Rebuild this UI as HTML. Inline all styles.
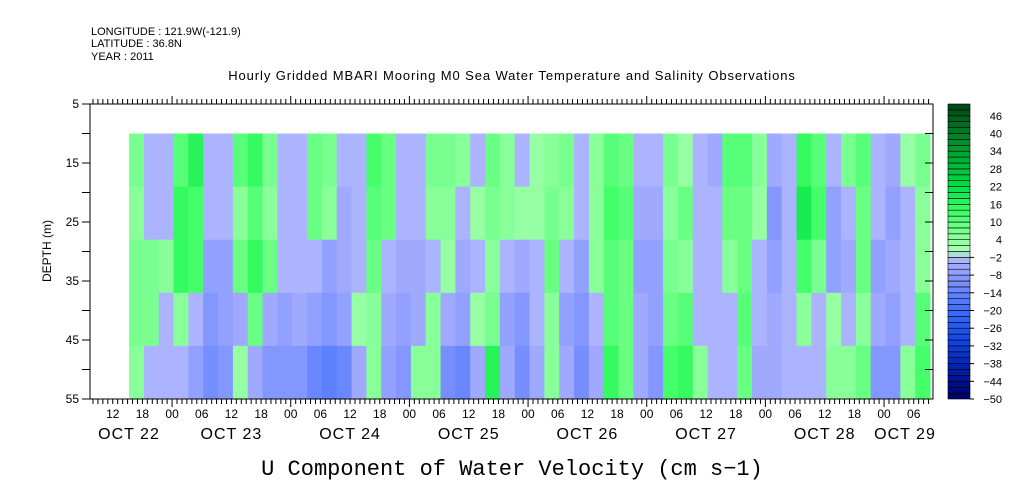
<!DOCTYPE html>
<html><head><meta charset="utf-8"><style>
html,body{margin:0;padding:0;background:#fff;}
svg{display:block;font-family:"Liberation Sans",sans-serif;}
</style></head><body>
<svg id="chart" width="1009" height="504" viewBox="0 0 1009 504" xmlns="http://www.w3.org/2000/svg">
<g font-size="11" fill="#000">
<text x="91" y="35">LONGITUDE : 121.9W(-121.9)</text>
<text x="91" y="47">LATITUDE : 36.8N</text>
<text x="91" y="60">YEAR : 2011</text>
</g>
<text x="512" y="80" font-size="13" letter-spacing="0.9" text-anchor="middle">Hourly Gridded MBARI Mooring M0 Sea Water Temperature and Salinity Observations</text>
<text x="0" y="0" font-size="12" text-anchor="middle" transform="translate(51,251) rotate(-90)">DEPTH (m)</text>
<text x="512" y="475" font-size="22" font-family="Liberation Mono, monospace" text-anchor="middle">U Component of Water Velocity (cm s−1)</text>
<g id="cells"></g>
<g id="axes"></g>
<g id="cbar"></g>
</svg>
<script>
// Data: columns every 3 hours starting at hour offset from Oct 23 00:00
const startHour = -8.7;
const stepHours = 3;
const depthBands = [10, 19, 28, 37, 46, 55];
const row1 = [6,-3,-3,10,16,-3,-3,10,14,6,-3,-3,8,6,-4,-3,12,8,-3,-3,6,6,4,-3,8,4,-3,2,4,6,-3,4,10,8,-4,-3,6,2,-3,-6,10,10,4,-6,-3,14,10,-4,6,10,-3,-6,2,6];
const row2 = [4,-4,-4,14,12,-4,-3,4,10,4,-3,-3,8,4,-6,-4,10,8,-3,-4,4,4,-3,2,6,4,2,2,6,4,-4,4,12,10,-6,-6,4,8,-4,-4,8,8,2,-10,-4,18,12,-8,-4,8,-4,-8,-3,4];
const row3 = [6,6,4,14,12,-8,-8,8,14,8,-3,-4,-4,-8,-6,-3,8,-3,-6,-6,-3,2,-6,-3,4,-4,-6,-3,8,-3,-8,4,10,8,-8,-8,6,4,-4,-4,4,8,-3,-8,-4,12,6,-8,-6,8,-8,-6,-4,4];
const row4 = [6,6,-3,4,-3,-10,-8,-6,8,-6,-8,-6,-8,-10,-8,2,4,-6,-8,-6,4,-6,-8,2,6,-8,-10,-4,4,-8,-10,-3,10,8,-6,-8,8,10,-4,-3,-3,10,-4,-6,-3,4,-4,2,-3,4,-6,-8,-3,10];
const row5 = [4,-3,-4,-4,-8,-12,-10,2,-6,-10,-10,-10,-14,-16,-14,-6,4,-8,-10,4,4,-12,-14,-6,16,-6,-12,-6,4,-6,-12,-6,14,8,-6,-10,12,14,4,-4,-4,8,-6,-6,-4,-3,-4,4,4,8,-10,-10,4,12];
const rows = [row1,row2,row3,row4,row5];
const cbarLabels = [46,40,34,28,22,16,10,4,-2,-8,-14,-20,-26,-32,-38,-44,-50];
const hourLabels = ["12","18","00","06","12","18","00","06","12","18","00","06","12","18","00","06","12","18","00","06","12","18","00","06","12","18","00","06"];
const dateLabels = ["OCT 22","OCT 23","OCT 24","OCT 25","OCT 26","OCT 27","OCT 28","OCT 29"];

const NS="http://www.w3.org/2000/svg";
const X0=90,X1=933,Y0=104,Y1=399,H0=-16.6,H1=153.9;
const xs=h=>X0+(h-H0)/(H1-H0)*(X1-X0);
const ys=d=>Y0+(d-5)/50*(Y1-Y0);
function mk(tag,attrs,parent){const e=document.createElementNS(NS,tag);for(const k in attrs)e.setAttribute(k,attrs[k]);parent.appendChild(e);return e;}
const anchors=[[-50,[0,0,100]],[-40,[0,30,170]],[-30,[20,70,230]],[-20,[60,110,255]],[-10,[125,145,255]],[-2,[180,185,255]],[0,[170,255,175]],[6,[130,255,150]],[14,[60,255,100]],[22,[0,225,70]],[34,[0,160,50]],[50,[0,70,20]]];
function color(v){
  v=Math.max(-50,Math.min(49.9,v));
  const lv=Math.floor(v/2)*2+1;
  for(let i=0;i<anchors.length-1;i++){
    const a=anchors[i],b=anchors[i+1];
    if(lv>=a[0]&&lv<=b[0]){const t=(lv-a[0])/(b[0]-a[0]);return "rgb("+a[1].map((c,j)=>Math.round(c+(b[1][j]-c)*t)).join(",")+")";}
  }
  return "rgb(0,70,20)";
}
const cells=document.getElementById('cells');
rows.forEach((row,r)=>{
  row.forEach((v,i)=>{
    const h0=startHour+i*stepHours;
    const xa=Math.max(xs(h0),X0), xb=Math.min(xs(h0+stepHours),X1);
    const rc=mk('rect',{x:xa,y:ys(depthBands[r]),width:xb-xa+0.5,height:ys(depthBands[r+1])-ys(depthBands[r])+0.5,fill:color(v)},cells);
    
    
  });
});
const ax=document.getElementById('axes');
const fr=mk('rect',{x:X0,y:Y0,width:X1-X0,height:Y1-Y0,fill:'none',stroke:'#000','stroke-width':1},ax);


for(let d=5;d<=55;d+=5){
  const y=ys(d);
  mk('line',{x1:X0-8,x2:X0,y1:y,y2:y,stroke:'#000'},ax);
  mk('line',{x1:X1-8,x2:X1,y1:y,y2:y,stroke:'#000'},ax);
  if(d%10===5){
    const t=mk('text',{x:X0-11,y:y+4,'font-size':12,'text-anchor':'end'},ax);
    t.textContent=d;
    
    
  }
}
for(let h=Math.ceil(H0);h<=H1;h++){
  const x=xs(h);
  const big=(((h%24)+24)%24===0);
  mk('line',{x1:x,x2:x,y1:Y1,y2:Y1+(big?8:5),stroke:'#000'},ax);
  mk('line',{x1:x,x2:x,y1:Y0,y2:Y0-(big?8:5),stroke:'#000'},ax);
}
hourLabels.forEach((lab,i)=>{
  const h=-12+i*6;
  const t=mk('text',{x:xs(h),y:418,'font-size':12,'text-anchor':'middle'},ax);
  t.textContent=lab;
  
  
});
dateLabels.forEach((lab,i)=>{
  let x=xs(i*24-12);
  if(i===0)x=129; if(i===dateLabels.length-1)x=905;
  const t=mk('text',{x:x,y:439,'font-size':16,'letter-spacing':1,'text-anchor':'middle'},ax);
  t.textContent=lab;
  
  
});
const cb=document.getElementById('cbar');
const CX=948,CW=22,cy=v=>Y1-(v+50)/100*(Y1-Y0);
for(let v=-50;v<50;v+=2){
  const r=mk('rect',{x:CX,y:cy(v+2),width:CW,height:cy(v)-cy(v+2),fill:color(v+1),stroke:'#000','stroke-width':0.6},cb);
  
  
}
cbarLabels.forEach(v=>{
  const y=cy(v);
  if(v<0)mk('line',{x1:CX+CW,x2:CX+CW+4,y1:y,y2:y,stroke:'#000'},cb);
  const t=mk('text',{x:1002,y:y+4,'font-size':11,'text-anchor':'end'},cb);
  t.textContent=v<0?"−"+(-v):v;
  
  
});
</script>
</body></html>
